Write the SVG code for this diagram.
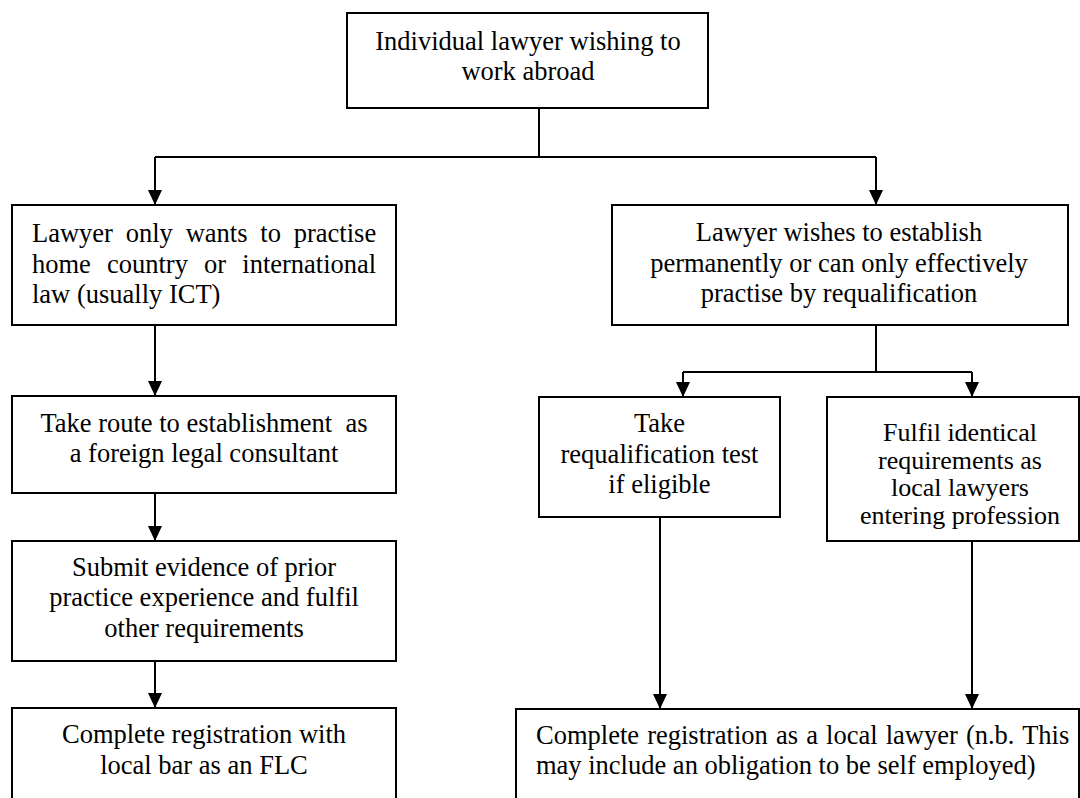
<svg xmlns="http://www.w3.org/2000/svg" width="1080" height="798" viewBox="0 0 1080 798">
<style>
.box{fill:#fff;stroke:#000;stroke-width:2}
.t{font-family:"Liberation Serif","Times New Roman",serif;font-size:26.5px;fill:#000}
.c{text-anchor:middle}
.tight{font-size:26px}
.ln{fill:none;stroke:#000;stroke-width:2}
</style>
<defs>
<marker id="ah" viewBox="0 0 15 14" refX="15" refY="7" markerWidth="15" markerHeight="14" markerUnits="userSpaceOnUse" orient="auto">
<path d="M0,0 L15,7 L0,14 z" fill="#000"/>
</marker>
</defs>
<rect width="1080" height="798" fill="#fff"/>
<g id="connectors">
<path class="ln" d="M539,108 V157 M155,157 H876"/>
<path class="ln" d="M155,157 V205" marker-end="url(#ah)"/>
<path class="ln" d="M876,157 V205" marker-end="url(#ah)"/>
<path class="ln" d="M155,325 V396" marker-end="url(#ah)"/>
<path class="ln" d="M155,493 V541" marker-end="url(#ah)"/>
<path class="ln" d="M155,661 V708" marker-end="url(#ah)"/>
<path class="ln" d="M876,325 V372 M683,372 H972"/>
<path class="ln" d="M683,372 V397" marker-end="url(#ah)"/>
<path class="ln" d="M972,372 V397" marker-end="url(#ah)"/>
<path class="ln" d="M660,517 V709" marker-end="url(#ah)"/>
<path class="ln" d="M972,541 V709" marker-end="url(#ah)"/>
</g>
<g id="n-start">
<rect class="box" x="347" y="13" width="361" height="95"/>
<text class="t c"><tspan x="528" y="49.5">Individual lawyer wishing to</tspan><tspan x="528" y="79.5">work abroad</tspan></text>
</g>
<g id="n-home-law">
<rect class="box" x="12" y="205" width="384" height="120"/>
<text class="t"><tspan x="32" y="242" word-spacing="6.2">Lawyer only wants to practise</tspan><tspan x="32" y="272.5" word-spacing="9.5">home country or international</tspan><tspan x="32" y="303">law (usually ICT)</tspan></text>
</g>
<g id="n-establish">
<rect class="box" x="612" y="205" width="456" height="120"/>
<text class="t c"><tspan x="839" y="241">Lawyer wishes to establish</tspan><tspan x="839" y="271.5">permanently or can only effectively</tspan><tspan x="839" y="302">practise by requalification</tspan></text>
</g>
<g id="n-flc-route">
<rect class="box" x="12" y="396" width="384" height="97"/>
<text class="t c"><tspan x="204" y="432">Take route to establishment&#160; as</tspan><tspan x="204" y="462">a foreign legal consultant</tspan></text>
</g>
<g id="n-requal-test">
<rect class="box" x="539" y="397" width="241" height="120"/>
<text class="t c"><tspan x="659.5" y="432">Take</tspan><tspan x="659.5" y="462.5">requalification test</tspan><tspan x="659.5" y="493">if eligible</tspan></text>
</g>
<g id="n-identical">
<rect class="box" x="827" y="397" width="252" height="144"/>
<text class="t c tight"><tspan x="960" y="441">Fulfil identical</tspan><tspan x="960" y="468.5">requirements as</tspan><tspan x="960" y="496">local lawyers</tspan><tspan x="960" y="523.5">entering profession</tspan></text>
</g>
<g id="n-evidence">
<rect class="box" x="12" y="541" width="384" height="120"/>
<text class="t c"><tspan x="204" y="576">Submit evidence of prior</tspan><tspan x="204" y="606">practice experience and fulfil</tspan><tspan x="204" y="636.5">other requirements</tspan></text>
</g>
<g id="n-flc-register">
<rect class="box" x="12" y="708" width="384" height="110"/>
<text class="t c"><tspan x="204" y="743">Complete registration with</tspan><tspan x="204" y="774">local bar as an FLC</tspan></text>
</g>
<g id="n-local-register">
<rect class="box" x="516" y="709" width="563" height="110"/>
<text class="t"><tspan x="536" y="743.5" word-spacing="1.5">Complete registration as a local lawyer (n.b. This</tspan><tspan x="536" y="773.5">may include an obligation to be self employed)</tspan></text>
</g>
</svg>
